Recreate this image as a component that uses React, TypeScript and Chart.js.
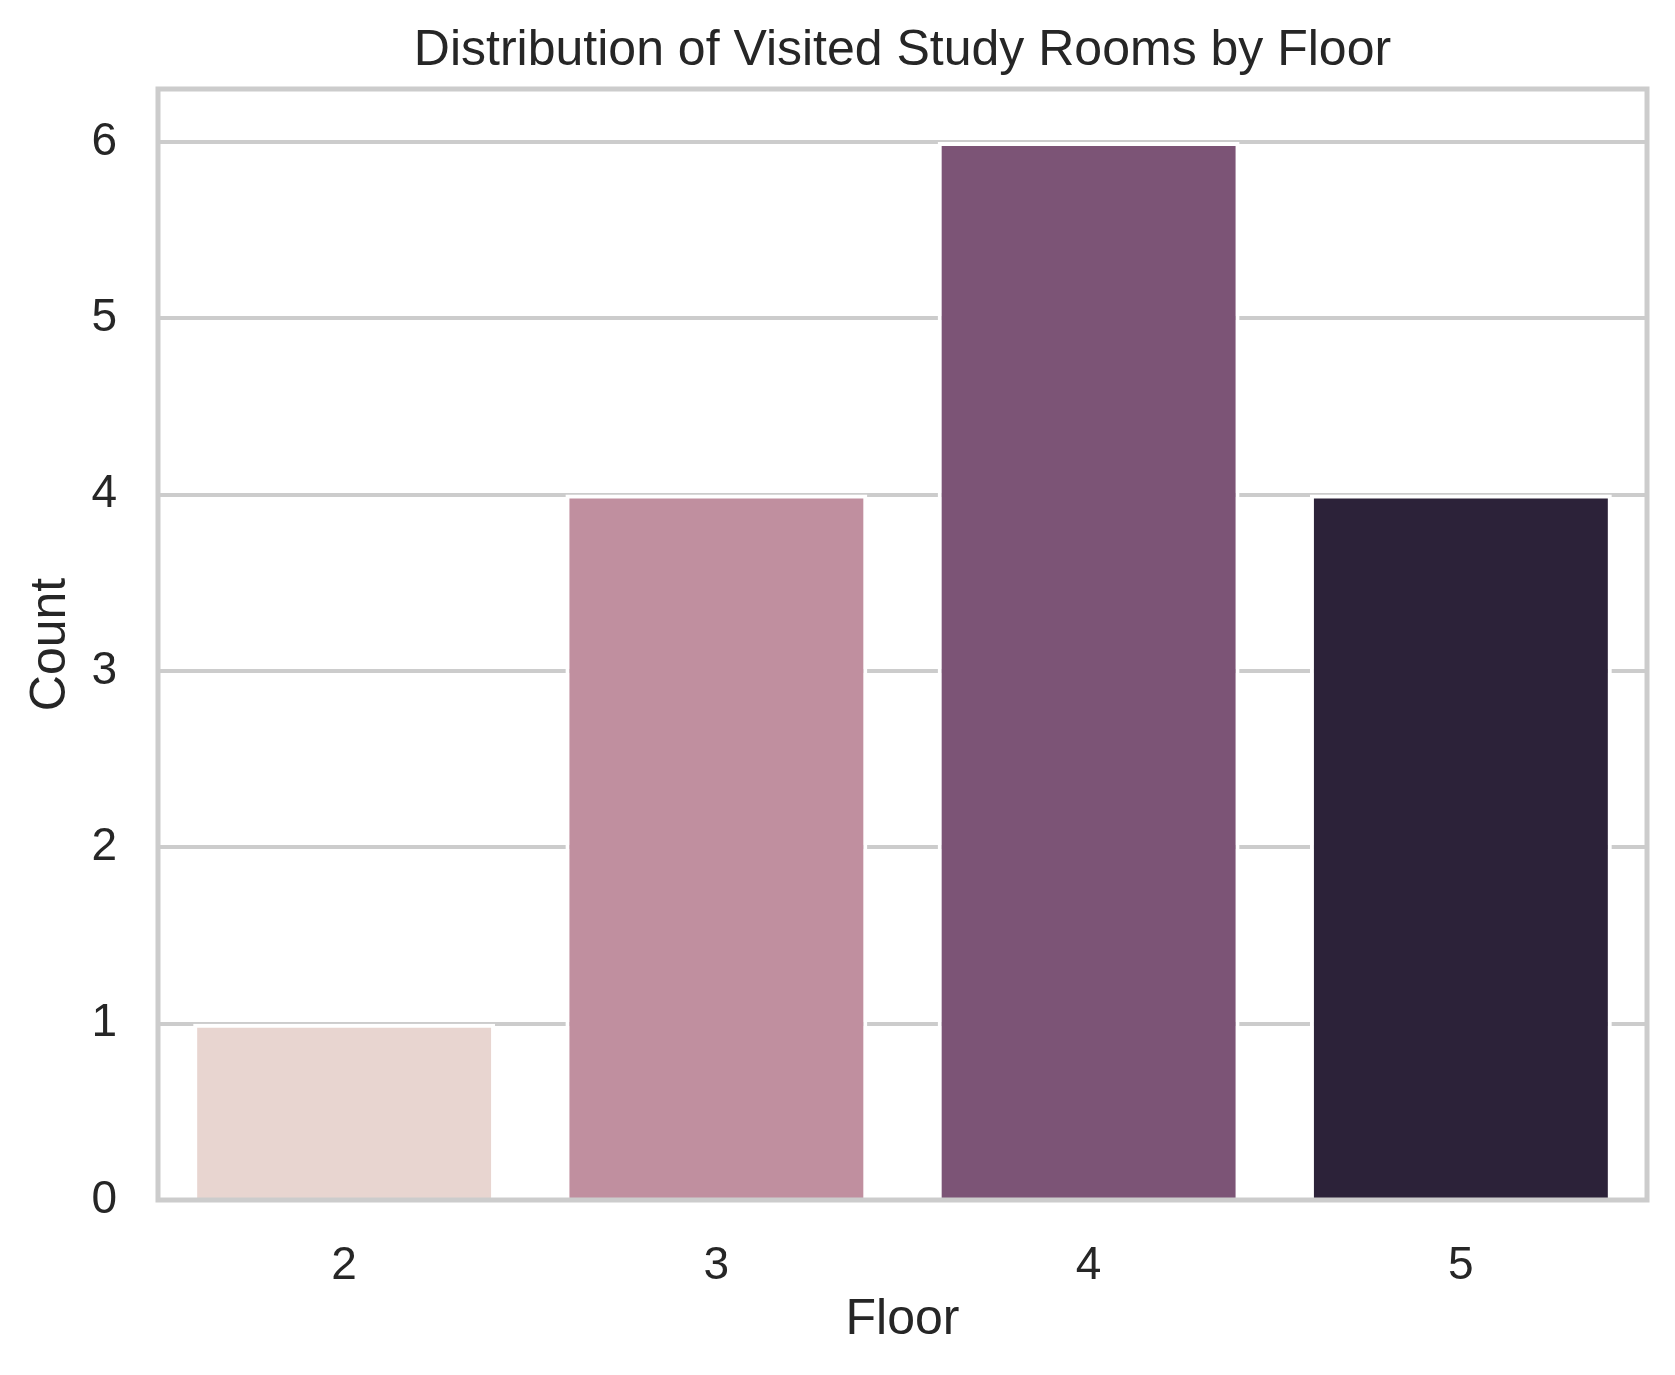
import { useRef, useEffect } from "react";
import { Chart, registerables } from "chart.js";

Chart.register(...registerables);

// data
const floors = ["2", "3", "4", "5"];
const counts = [1, 4, 6, 4];
const yMax = 6.3;
const chartTitle = "Distribution of Visited Study Rooms by Floor";

const palette = ["#e8d5d0", "#c08f9f", "#7c5476", "#2c2239"];
const textColor = "#262626";
const gridColor = "#cccccc";
const fontFamily = "'Liberation Sans', Arial, sans-serif";

// seaborn style frame round the plot area, title centred over the axes
const framePlugin = {
  id: "frame",
  afterDatasetsDraw(chart: any) {
    const { ctx, chartArea } = chart;
    ctx.save();
    ctx.strokeStyle = gridColor;
    ctx.lineWidth = 5;
    ctx.strokeRect(
      chartArea.left,
      chartArea.top,
      chartArea.right - chartArea.left,
      chartArea.bottom - chartArea.top
    );
    ctx.fillStyle = textColor;
    ctx.font = `50px ${fontFamily}`;
    ctx.textAlign = "center";
    ctx.textBaseline = "alphabetic";
    ctx.fillText(chartTitle, (chartArea.left + chartArea.right) / 2, chartArea.top - 24);
    ctx.restore();
  },
};

const App = () => {
  const canvasRef = useRef<HTMLCanvasElement | null>(null);
  const chartRef = useRef<any>(null);

  useEffect(() => {
    document.body.style.margin = "0";
    if (!canvasRef.current) return;
    if (chartRef.current) chartRef.current.destroy();

    const ctx = canvasRef.current.getContext("2d");
    if (!ctx) return;

    chartRef.current = new Chart(ctx, {
      type: "bar",
      data: {
        labels: floors,
        datasets: [
          {
            label: "Count",
            data: counts,
            backgroundColor: palette,
            borderColor: "#ffffff",
            borderWidth: 4,
            borderSkipped: "start",
            categoryPercentage: 1,
            barPercentage: 0.811,
          },
        ],
      },
      options: {
        responsive: false,
        animation: false,
        devicePixelRatio: 1,
        layout: { padding: { left: 0, right: 28, top: 89, bottom: 0 } },
        plugins: {
          legend: { display: false },
          tooltip: { enabled: false },
          title: { display: false },
        },
        scales: {
          x: {
            grid: { display: false },
            border: { display: false },
            ticks: {
              color: textColor,
              font: { family: fontFamily, size: 46 },
              padding: 31,
            },
            title: {
              display: true,
              text: "Floor",
              color: textColor,
              font: { family: fontFamily, size: 50 },
              padding: { top: 0, bottom: 25 },
            },
            afterFit: (scale: any) => {
              scale.height = 175;
            },
          },
          y: {
            min: 0,
            max: yMax,
            grid: { color: gridColor, lineWidth: 4, drawTicks: false },
            border: { display: false },
            ticks: {
              stepSize: 1,
              includeBounds: false,
              color: textColor,
              font: { family: fontFamily, size: 46 },
              padding: 41,
            },
            title: {
              display: true,
              text: "Count",
              color: textColor,
              font: { family: fontFamily, size: 50 },
              padding: { top: 21, bottom: 0 },
            },
            afterFit: (scale: any) => {
              scale.width = 158;
            },
          },
        },
      },
      plugins: [framePlugin],
    });

    return () => chartRef.current?.destroy();
  }, []);

  return (
    <div style={{ width: 1675, height: 1375, background: "#ffffff" }}>
      <canvas ref={canvasRef} width={1675} height={1375}></canvas>
    </div>
  );
};

export default App;
